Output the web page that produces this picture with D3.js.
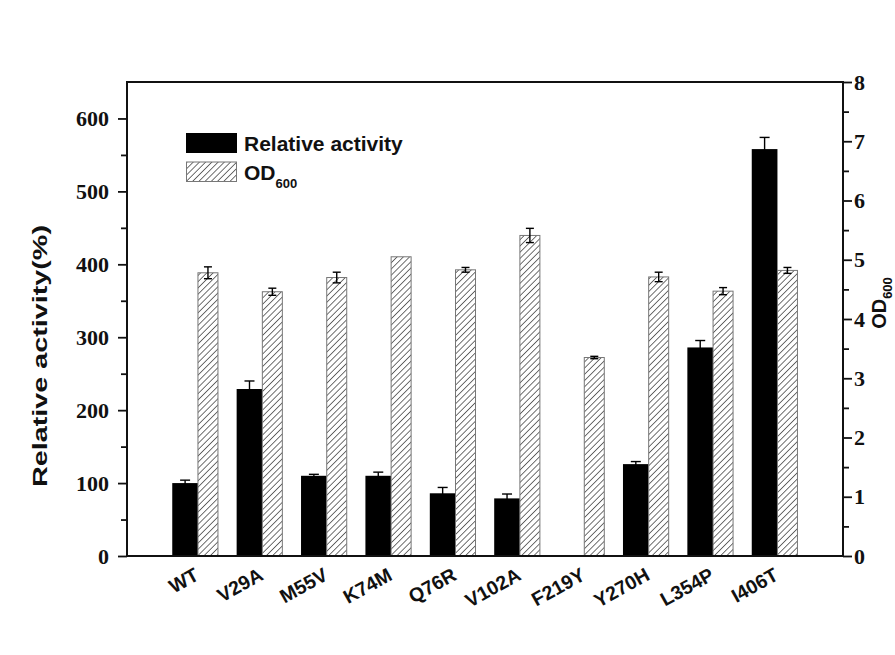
<!DOCTYPE html>
<html>
<head>
<meta charset="utf-8">
<script src="https://cdn.jsdelivr.net/npm/d3@7/dist/d3.min.js"></script>
<style>
  html, body { margin: 0; padding: 0; background: #fff; }
  svg { display: block; }
</style>
</head>
<body>
<svg id="chart" width="895" height="655"></svg>
<script>
// Mutant strains
const categories = ["WT", "V29A", "M55V", "K74M", "Q76R", "V102A", "F219Y", "Y270H", "L354P", "I406T"];
// Relative activity (%) and its error
const activity = [100, 229, 110, 110, 86, 79, 0, 126, 286, 558];
const activityErr = [4, 11, 2, 5, 8, 6, 0, 3.5, 9.5, 16];
// Cell density OD600 and its error
const od600 = [4.78, 4.46, 4.70, 5.05, 4.83, 5.41, 3.35, 4.71, 4.47, 4.82];
const odErr = [0.10, 0.06, 0.09, 0, 0.04, 0.12, 0.02, 0.08, 0.06, 0.05];
// Axis ticks
const leftTicks = [0, 100, 200, 300, 400, 500, 600];
const rightTicks = [0, 1, 2, 3, 4, 5, 6, 7, 8];

const svg = d3.select("#chart");
const L = 127, R = 843, T = 82, B = 556;

const x = d3.scalePoint().domain(categories).range([L, R]).padding(1.06);
const yL = d3.scaleLinear().domain([0, 650]).range([B, T]);
const yR = d3.scaleLinear().domain([0, 8]).range([B, T]);

// hatch pattern
const defs = svg.append("defs");
const pat = defs.append("pattern")
  .attr("id", "hatch")
  .attr("patternUnits", "userSpaceOnUse")
  .attr("width", 4.4).attr("height", 4.4)
  .attr("patternTransform", "rotate(45)");
pat.append("rect").attr("width", 4.4).attr("height", 4.4).attr("fill", "#fff");
pat.append("line").attr("x1", 0).attr("y1", 0).attr("x2", 0).attr("y2", 4.4)
  .attr("stroke", "#333").attr("stroke-width", 1.4);

const blackW = 25.7, hatchW = 20, off = 2.7;

// activity bars
svg.append("g").selectAll("rect").data(categories).join("rect")
  .attr("x", d => x(d) - blackW + off)
  .attr("y", (d, i) => yL(activity[i]))
  .attr("width", blackW)
  .attr("height", (d, i) => B - yL(activity[i]))
  .attr("fill", "#000");

// OD600 bars
svg.append("g").selectAll("rect").data(categories).join("rect")
  .attr("x", d => x(d) + off)
  .attr("y", (d, i) => yR(od600[i]))
  .attr("width", hatchW)
  .attr("height", (d, i) => B - yR(od600[i]))
  .attr("fill", "url(#hatch)")
  .attr("stroke", "#777").attr("stroke-width", 1);

// error bars
function errorBars(cx, vals, errs, scale, cap) {
  const g = svg.append("g").attr("stroke", "#000").attr("stroke-width", 1.4).attr("fill", "none");
  categories.forEach((c, i) => {
    if (!errs[i] || !vals[i]) return;
    const xc = cx(c);
    const y1 = scale(vals[i] + errs[i]), y0 = scale(vals[i] - errs[i]);
    g.append("line").attr("x1", xc).attr("x2", xc).attr("y1", y1).attr("y2", y0);
    g.append("line").attr("x1", xc - cap / 2).attr("x2", xc + cap / 2).attr("y1", y1).attr("y2", y1);
    g.append("line").attr("x1", xc - cap / 2).attr("x2", xc + cap / 2).attr("y1", y0).attr("y2", y0);
  });
}
errorBars(c => x(c) - blackW / 2 + off, activity, activityErr, yL, 10);
errorBars(c => x(c) + off + hatchW / 2, od600, odErr, yR, 8);

// axes
const tickFont = "'Liberation Serif', 'Times New Roman', serif";
const leftAxis = svg.append("g").attr("transform", `translate(${L},0)`)
  .call(d3.axisLeft(yL).tickValues(leftTicks).tickSize(9).tickPadding(9));
const leftMinor = svg.append("g").attr("transform", `translate(${L},0)`)
  .call(d3.axisLeft(yL).tickValues(d3.range(50, 650, 100)).tickSize(6).tickFormat(""));
const rightAxis = svg.append("g").attr("transform", `translate(${R},0)`)
  .call(d3.axisRight(yR).tickValues(rightTicks).tickSize(9).tickPadding(2));
const rightMinor = svg.append("g").attr("transform", `translate(${R},0)`)
  .call(d3.axisRight(yR).tickValues(d3.range(0.5, 8, 1)).tickSize(6).tickFormat(""));

[leftAxis, leftMinor, rightAxis, rightMinor].forEach(a => {
  a.select(".domain").remove();
  a.selectAll(".tick line").attr("stroke", "#111").attr("stroke-width", 1.8);
  a.selectAll(".tick text")
    .attr("font-family", tickFont).attr("font-weight", "bold")
    .attr("font-size", 22).attr("fill", "#111");
});

// frame: left, right, top, bottom lines
const frame = svg.append("g").attr("stroke", "#111").attr("stroke-width", 2).attr("fill", "none");
frame.append("line").attr("x1", L).attr("x2", L).attr("y1", T).attr("y2", B);
frame.append("line").attr("x1", R).attr("x2", R).attr("y1", T).attr("y2", B);
frame.append("line").attr("x1", L - 1).attr("x2", R + 1).attr("y1", T).attr("y2", T);
frame.append("line").attr("x1", L - 1).attr("x2", R + 1).attr("y1", B).attr("y2", B);

// category labels, slanted
const sans = "'Liberation Sans', Arial, sans-serif";
const xl = svg.append("g");
categories.forEach(c => {
  xl.append("text")
    .attr("transform", `translate(${x(c) + 5},579) rotate(-29)`)
    .attr("text-anchor", "end")
    .attr("font-family", sans).attr("font-weight", "bold")
    .attr("font-size", 19.5).attr("fill", "#111")
    .text(c);
});

// left axis title
svg.append("text")
  .attr("transform", "translate(47,356) rotate(-90)")
  .attr("text-anchor", "middle")
  .attr("font-family", sans).attr("font-weight", "bold")
  .attr("font-size", 21).attr("fill", "#111")
  .attr("textLength", 262).attr("lengthAdjust", "spacingAndGlyphs")
  .text("Relative activity(%)");

// right axis title
const rt = svg.append("text")
  .attr("transform", "translate(886,303) rotate(-90)")
  .attr("text-anchor", "middle")
  .attr("font-family", sans).attr("font-weight", "bold")
  .attr("fill", "#111");
rt.append("tspan").attr("font-size", 20).text("OD");
rt.append("tspan").attr("font-size", 13).attr("dy", 6).text("600");

// legend
const lg = svg.append("g");
lg.append("rect").attr("x", 186).attr("y", 133).attr("width", 51).attr("height", 20).attr("fill", "#000");
lg.append("rect").attr("x", 186.5).attr("y", 162).attr("width", 50).attr("height", 19.5)
  .attr("fill", "url(#hatch)").attr("stroke", "#777").attr("stroke-width", 1);
lg.append("text").attr("x", 244).attr("y", 151)
  .attr("font-family", sans).attr("font-weight", "bold").attr("font-size", 21).attr("fill", "#111")
  .text("Relative activity");
const lt = lg.append("text").attr("x", 244).attr("y", 180)
  .attr("font-family", sans).attr("font-weight", "bold").attr("fill", "#111");
lt.append("tspan").attr("font-size", 21).text("OD");
lt.append("tspan").attr("font-size", 13).attr("dy", 8).text("600");
</script>
</body>
</html>
